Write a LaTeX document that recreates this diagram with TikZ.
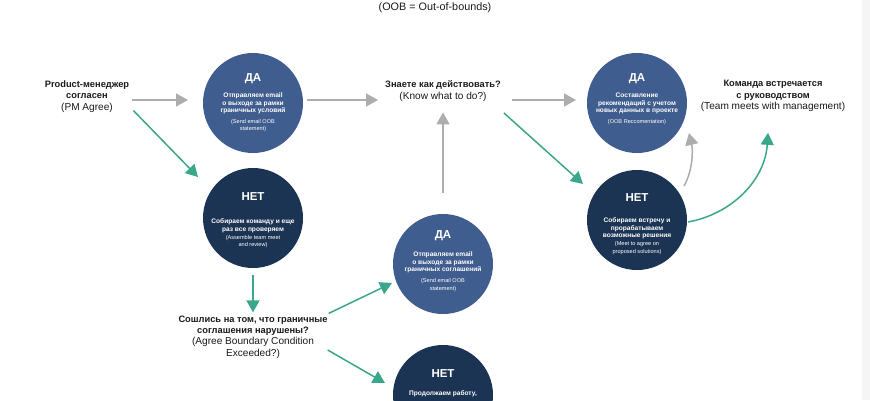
\documentclass[tikz,border=0pt]{standalone}
\usepackage{fontspec}
\setmainfont{Liberation Sans}
\usetikzlibrary{arrows.meta,calc}
\definecolor{dablue}{HTML}{3F5D8E}
\definecolor{netblue}{HTML}{1C3454}
\definecolor{grn}{HTML}{3AA68A}
\definecolor{gry}{HTML}{ADADAD}
\definecolor{strip}{HTML}{F5F5F5}
\definecolor{ink}{HTML}{1A1A1A}
\newcommand{\bl}[1]{{\fontsize{9.3}{11.4}\selectfont\bfseries #1}}
\tikzset{
  dacirc/.style={circle,fill=dablue,minimum size=100pt,inner sep=0pt},
  netcirc/.style={circle,fill=netblue,minimum size=100pt,inner sep=0pt},
  ctitle/.style={text=white,font=\fontsize{11.5}{13}\selectfont\bfseries,inner sep=0pt},
  cbody/.style={text=white,font=\fontsize{6.6}{7.7}\selectfont\bfseries,align=center,inner sep=0pt,anchor=north},
  ceng/.style={text=white,font=\fontsize{5.6}{7.6}\selectfont,align=center,inner sep=0pt,anchor=north},
  lbl/.style={text=ink,font=\fontsize{10.1}{11.4}\selectfont,align=center,inner sep=1pt},
  garrow/.style={draw=gry,line width=1.5pt,-{Triangle[length=12pt,width=13pt]}},
  gnarrow/.style={draw=grn,line width=1.5pt,-{Triangle[length=12pt,width=13pt]}},
}
\begin{document}
\begin{tikzpicture}[x=1pt,y=-1pt]
\clip (0,0) rectangle (870,400);
\fill[white] (0,0) rectangle (870,400);
\fill[strip] (862,0) rectangle (870,400);

\node[lbl,font=\fontsize{10.8}{12}\selectfont] (title) at (435,8) {(OOB = Out-of-bounds)};

% labels
\node[lbl] (pm) at (87,96.5) {\bl{Product-менеджер}\\\bl{согласен}\\(PM Agree)};
\node[lbl] (know) at (443,91) {\bl{Знаете как действовать?}\\(Know what to do?)};
\node[lbl] (team) at (773,96) {\bl{Команда встречается}\\\bl{с руководством}\\(Team meets with management)};
\node[lbl] (agree) at (253,337) {\bl{Сошлись на том, что граничные}\\\bl{соглашения нарушены?}\\(Agree Boundary Condition\\Exceeded?)};

% circles
\node[dacirc] (da1) at (253,103) {};
\node[ctitle] (da1t) at (253,78.5) {ДА};
\node[cbody] (da1b) at (253,92.5) {Отправляем email\\о выходе за рамки\\граничных условий};
\node[ceng] (da1e) at (253,119) {(Send email OOB\\statement)};

\node[netcirc] (net1) at (253,218) {};
\node[ctitle] (net1t) at (253,197) {НЕТ};
\node[cbody] (net1b) at (253,218.5) {Собираем команду и еще\\раз все проверяем};
\node[ceng] (net1e) at (253,235) {(Assemble team meet\\and review)};

\node[dacirc] (da2) at (637,103) {};
\node[ctitle] (da2t) at (637,78.5) {ДА};
\node[cbody] (da2b) at (637,92.5) {Составление\\рекомендаций с учетом\\новых данных в проекте};
\node[ceng] (da2e) at (637,119) {(OOB Reccomentation)};

\node[netcirc] (net2) at (637,220) {};
\node[ctitle] (net2t) at (637,197.5) {НЕТ};
\node[cbody] (net2b) at (637,217.5) {Собираем встречу и\\прорабатываем\\возможные решения};
\node[ceng] (net2e) at (637,241.5) {(Meet to agree on\\proposed solutions)};

\node[dacirc] (da3) at (443,264) {};
\node[ctitle] (da3t) at (443,235.5) {ДА};
\node[cbody] (da3b) at (443,251.5) {Отправляем email\\о выходе за рамки\\граничных соглашений};
\node[ceng] (da3e) at (443,278.5) {(Send email OOB\\statement)};

\node[netcirc] (net3) at (443,395) {};
\node[ctitle] (net3t) at (443,373.5) {НЕТ};
\node[cbody] (net3b) at (443,390.5) {Продолжаем работу,};

% connectors
\draw[garrow] ($(pm.east)+(2,3.5)$) -- ($(da1)+(-65,-3)$);
\draw[gnarrow] ($(pm.east)+(3,14)$) -- ($(net1)+(-55,-41)$);
\draw[garrow] ($(da1)+(54,-3)$) -- ($(know.west)+(-6,9)$);
\draw[garrow] ($(know.east)+(10,9)$) -- ($(da2)+(-61,-3)$);
\draw[gnarrow] ($(know.east)+(2,22)$) -- ($(net2)+(-54,-36)$);
\draw[garrow] ($(da3)+(0,-71)$) -- ($(know.south)+(0,10)$);
\draw[gnarrow] ($(net1)+(0,57)$) -- ($(agree.north)+(0,-2)$);
\draw[gnarrow] ($(agree.north east)+(0,-1)$) -- ($(da3)+(-51,19)$);
\draw[gnarrow] ($(agree.east)+(-1,13)$) -- ($(net3)+(-58,-12)$);
\draw[garrow] ($(net2)+(47,-34)$) .. controls ($(net2)+(56,-50)$) and ($(net2)+(56,-70)$) .. ($(da2)+(52,30)$);
\draw[gnarrow] ($(net2)+(51,2)$) .. controls ($(net2)+(95,-6)$) and ($(net2)+(128,-40)$) .. ($(team.south)+(-5,20)$);
\end{tikzpicture}
\end{document}
